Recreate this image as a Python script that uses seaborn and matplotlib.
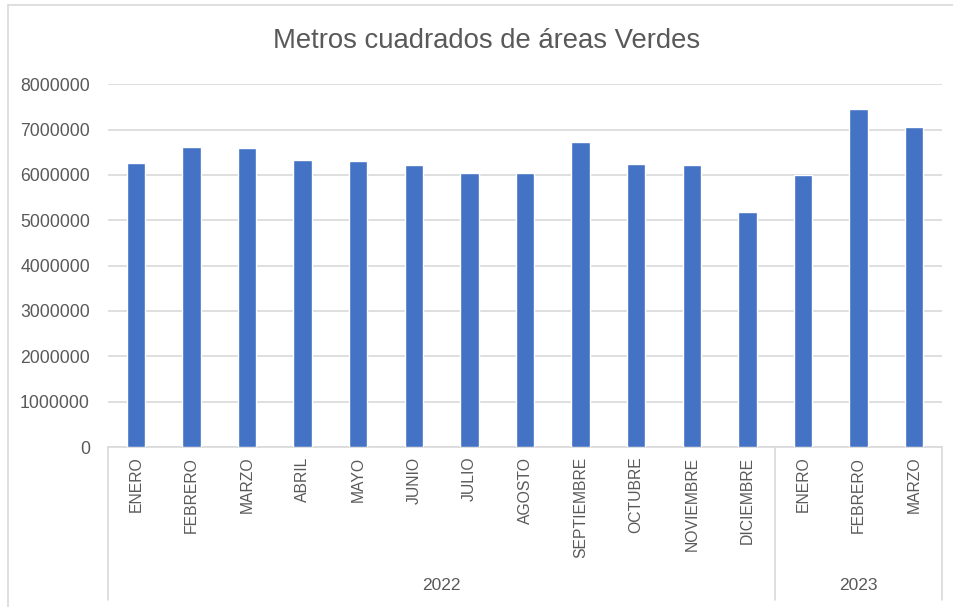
import matplotlib
matplotlib.use("Agg")
import matplotlib.pyplot as plt
import matplotlib.transforms as mtransforms
from matplotlib.lines import Line2D
import seaborn as sns
import pandas as pd

# ---- data ----
months = ["ENERO", "FEBRERO", "MARZO", "ABRIL", "MAYO", "JUNIO", "JULIO",
          "AGOSTO", "SEPTIEMBRE", "OCTUBRE", "NOVIEMBRE", "DICIEMBRE",
          "ENERO", "FEBRERO", "MARZO"]
years = ["2022"] * 12 + ["2023"] * 3
values = [6260000, 6620000, 6590000, 6340000, 6300000, 6230000, 6040000,
          6040000, 6730000, 6250000, 6220000, 5180000,
          6000000, 7450000, 7050000]
title = "Metros cuadrados de áreas Verdes"

sns.set_theme(style="white")
plt.rcParams["font.family"] = ["Liberation Sans", "DejaVu Sans"]

df = pd.DataFrame({"key": [f"{m} {y}" for m, y in zip(months, years)],
                   "value": values})

W, H = 954, 607
fig = plt.figure(figsize=(W / 100, H / 100), dpi=100)
x0, x1, y0, y1 = 108, 942, 447, 84.3
ax = fig.add_axes([x0 / W, 1 - y0 / H, (x1 - x0) / W, (y0 - y1) / H])

sns.barplot(data=df, x="key", y="value", color="#4472C4", width=0.33,
            saturation=1, ax=ax, zorder=3)

grey = "#595959"
line_c = "#d9d9d9"
ax.set_ylim(0, 8000000)
ax.set_xlim(-0.5, len(values) - 0.5)
ax.set_yticks(range(0, 8000001, 1000000))
ax.set_yticklabels([str(v) for v in range(0, 8000001, 1000000)],
                   color=grey, fontsize=12.7)
ax.set_xticks(range(len(months)))
ax.set_xticklabels(months, rotation=90, color=grey, fontsize=11.3, va="top")
ax.tick_params(axis="y", length=0, pad=13)
ax.tick_params(axis="x", length=0, pad=7)
ax.set_xlabel("")
ax.set_ylabel("")
ax.yaxis.grid(True, color=line_c, linewidth=1.2, zorder=0)
ax.set_axisbelow(True)
for s in ["top", "right", "left"]:
    ax.spines[s].set_visible(False)
ax.spines["bottom"].set_color(line_c)
ax.spines["bottom"].set_linewidth(1.2)

# group separators and year labels
trans = mtransforms.blended_transform_factory(ax.transData, ax.transAxes)
ybot = -(600 - y0) / (y0 - y1)
for xs in [-0.5, 11.5, len(values) - 0.5]:
    ax.add_line(Line2D([xs, xs], [0, ybot], transform=trans, color=line_c,
                       linewidth=1.2, clip_on=False))
year_pos = {}
for i, y in enumerate(years):
    year_pos.setdefault(y, []).append(i)
yl = -(585 - y0) / (y0 - y1)
for y, idx in year_pos.items():
    ax.text((idx[0] + idx[-1]) / 2, yl, y, transform=trans, ha="center",
            va="center", color=grey, fontsize=12.5)

fig.text(487 / W, 1 - 41 / H, title, ha="center", va="center",
         color=grey, fontsize=19.8)

# outer chart border (left and top visible)
fig.add_artist(Line2D([8 / W, 8 / W], [0, 1 - 5 / H], color=line_c,
                      linewidth=1.2, transform=fig.transFigure))
fig.add_artist(Line2D([8 / W, 1], [1 - 5 / H, 1 - 5 / H], color=line_c,
                      linewidth=1.2, transform=fig.transFigure))

fig.savefig("out.png", dpi=100, facecolor="white")
